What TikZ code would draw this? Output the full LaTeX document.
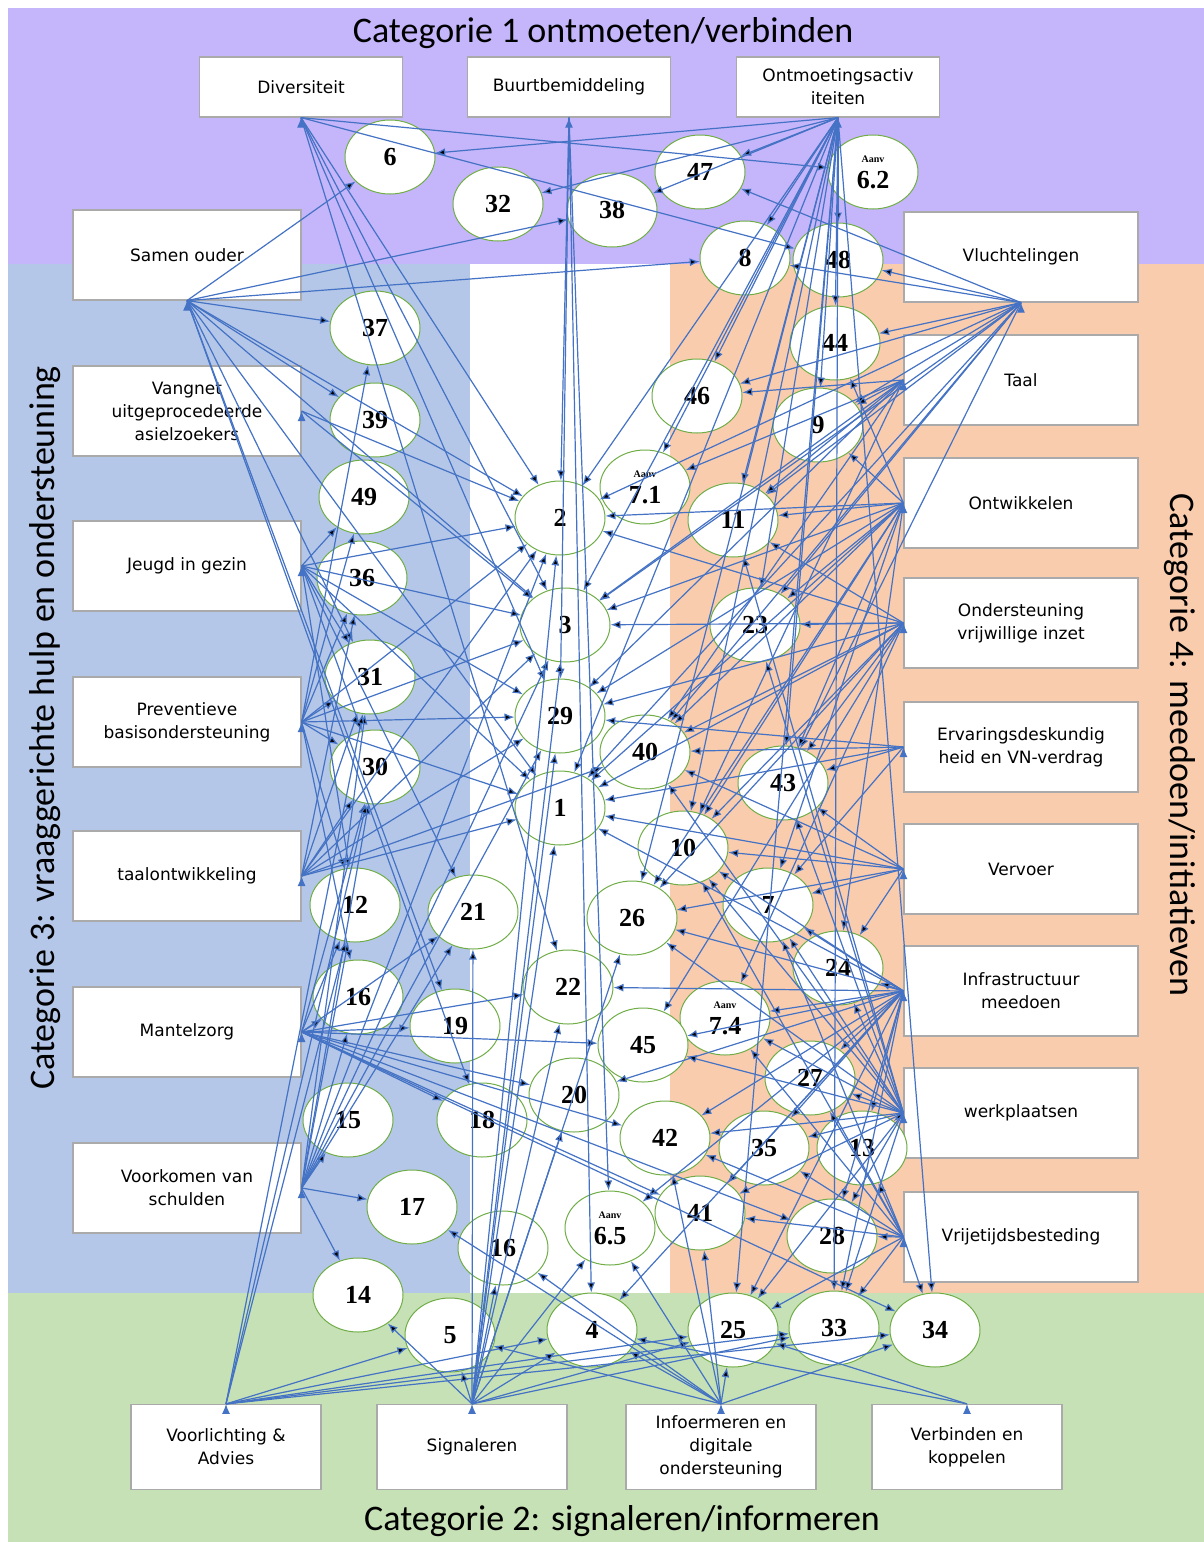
\documentclass[tikz,border=0pt]{standalone}
\usepackage{fontspec}
\setmainfont{DejaVu Sans}
\newfontfamily\titlefont{Carlito}
\newfontfamily\numfont{Liberation Serif}
\usepackage{tikz}
\usetikzlibrary{arrows}
\usetikzlibrary{arrows.meta}
\usetikzlibrary{shapes}
\definecolor{catpurple}{RGB}{197,181,250}
\definecolor{catblue}{RGB}{181,199,232}
\definecolor{catorange}{RGB}{249,204,174}
\definecolor{catgreen}{RGB}{199,225,182}
\definecolor{linkblue}{RGB}{68,114,196}
\definecolor{ringgreen}{RGB}{112,173,71}
\definecolor{boxgray}{RGB}{170,170,170}
\newcommand{\aanvtxt}{{\fontsize{5}{5}\selectfont Aanv}}

\begin{document}
\begin{tikzpicture}[x=0.5pt,y=-0.5pt,>={Latex[length=5pt,width=4pt]},
    title/.style={font=\titlefont\fontsize{18}{18}\selectfont,inner sep=0pt},
    cat/.style={draw=boxgray,fill=white,line width=0.6pt,align=center,inner sep=1pt,
      font=\fontsize{8.5}{11.5}\selectfont},
    sidebox/.style={cat,minimum width=114pt,minimum height=45pt},
    topbox/.style={cat,minimum width=101.5pt,minimum height=30pt},
    botbox/.style={cat,minimum width=95pt,minimum height=42.5pt},
    ring/.style={ellipse,draw=ringgreen,fill=white,line width=0.5pt,minimum width=45pt,
      minimum height=37pt,inner sep=0pt,align=center,
      font=\numfont\bfseries\fontsize{13}{13}\selectfont},
    link/.style={->,draw=linkblue,line width=0.6pt}]
      \useasboundingbox (0,0) rectangle (1204,1542);

      % category areas
      \fill[catpurple] (8,8) rectangle (1204,264);
      \fill[catblue]   (8,264) rectangle (470,1293);
      \fill[white]     (470,264) rectangle (670,1293);
      \fill[catorange] (670,264) rectangle (1204,1293);
      \fill[catgreen]  (8,1293) rectangle (1204,1542);

      \node[title] (cat1) at (603,33) {Categorie 1 ontmoeten/verbinden};
      \node[title] (cat2) at (622,1521) {Categorie 2: signaleren/informeren};
      \node[title,rotate=90] (cat3) at (45,728)
        {Categorie 3: vraaggerichte hulp en ondersteuning};
      \node[title,rotate=-90] (cat4) at (1180,745)
        {Categorie 4: meedoen/initiatieven};

      % boxes
      \node[topbox] (div)  at (301,87) {Diversiteit};
      \node[topbox] (buur) at (569,87) {Buurtbemiddeling};
      \node[topbox] (ontm) at (838,87) {Ontmoetingsactiv\\iteiten};

      \node[sidebox] (samen)  at (187,255)  {Samen ouder};
      \node[sidebox] (vang)   at (187,411)  {Vangnet\\uitgeprocedeerde\\asielzoekers};
      \node[sidebox] (jeugd)  at (187,566)  {Jeugd in gezin};
      \node[sidebox] (prev)   at (187,722)  {Preventieve\\basisondersteuning};
      \node[sidebox] (taalo)  at (187,876)  {taalontwikkeling};
      \node[sidebox] (mantel) at (187,1032) {Mantelzorg};
      \node[sidebox] (schuld) at (187,1188) {Voorkomen van\\schulden};

      \node[sidebox,minimum width=117pt] (vlucht)  at (1021,257)  {Vluchtelingen};
      \node[sidebox,minimum width=117pt] (taal)    at (1021,380)  {Taal};
      \node[sidebox,minimum width=117pt] (ontw)    at (1021,503)  {Ontwikkelen};
      \node[sidebox,minimum width=117pt] (onder)   at (1021,623)  {Ondersteuning\\vrijwillige inzet};
      \node[sidebox,minimum width=117pt] (erv)     at (1021,747)  {Ervaringsdeskundig\\heid en VN-verdrag};
      \node[sidebox,minimum width=117pt] (vervoer) at (1021,869)  {Vervoer};
      \node[sidebox,minimum width=117pt] (infra)   at (1021,991)  {Infrastructuur\\meedoen};
      \node[sidebox,minimum width=117pt] (werk)    at (1021,1113) {werkplaatsen};
      \node[sidebox,minimum width=117pt] (vrij)    at (1021,1237) {Vrijetijdsbesteding};

      \node[botbox] (voorl) at (226,1447) {Voorlichting \&\\Advies};
      \node[botbox] (sign)  at (472,1447) {Signaleren};
      \node[botbox] (info)  at (721,1447) {Infoermeren en\\digitale\\ondersteuning};
      \node[botbox] (verb)  at (967,1447) {Verbinden en\\koppelen};

      % numbered activities
      \node[ring] (n6)  at (390,157)  {6};
      \node[ring] (n32) at (498,204)  {32};
      \node[ring] (n38) at (612,210)  {38};
      \node[ring] (n47) at (700,172)  {47};
      \node[ring] (n62) at (873,172)  {\aanvtxt\\6.2};
      \node[ring] (n8)  at (745,258)  {8};
      \node[ring] (n48) at (838,260)  {48};
      \node[ring] (n37) at (375,328)  {37};
      \node[ring] (n44) at (835,343)  {44};
      \node[ring] (n46) at (697,396)  {46};
      \node[ring] (n39) at (375,420)  {39};
      \node[ring] (n9)  at (818,425)  {9};
      \node[ring] (n49) at (364,497)  {49};
      \node[ring] (n71) at (645,487)  {\aanvtxt\\7.1};
      \node[ring] (n2)  at (560,518)  {2};
      \node[ring] (n11) at (733,520)  {11};
      \node[ring] (n36) at (362,578)  {36};
      \node[ring] (n3)  at (565,625)  {3};
      \node[ring] (n23) at (755,625)  {23};
      \node[ring] (n31) at (370,677)  {31};
      \node[ring] (n29) at (560,716)  {29};
      \node[ring] (n40) at (645,752)  {40};
      \node[ring] (n30) at (375,767)  {30};
      \node[ring] (n43) at (783,783)  {43};
      \node[ring] (n1)  at (560,808)  {1};
      \node[ring] (n10) at (683,848)  {10};
      \node[ring] (n12) at (355,905)  {12};
      \node[ring] (n21) at (473,912)  {21};
      \node[ring] (n26) at (632,918)  {26};
      \node[ring] (n7)  at (768,905)  {7};
      \node[ring] (n22) at (568,987)  {22};
      \node[ring] (n24) at (838,968)  {24};
      \node[ring] (n16) at (358,997)  {16};
      \node[ring] (n19) at (455,1026) {19};
      \node[ring] (n74) at (725,1018) {\aanvtxt\\7.4};
      \node[ring] (n45) at (643,1045) {45};
      \node[ring] (n27) at (810,1078) {27};
      \node[ring] (n20) at (574,1095) {20};
      \node[ring] (n15) at (348,1120) {15};
      \node[ring] (n18) at (482,1120) {18};
      \node[ring] (n42) at (665,1138) {42};
      \node[ring] (n35) at (764,1148) {35};
      \node[ring] (n13) at (862,1148) {13};
      \node[ring] (n17) at (412,1207) {17};
      \node[ring] (n65) at (610,1228) {\aanvtxt\\6.5};
      \node[ring] (n41) at (700,1213) {41};
      \node[ring] (n28) at (832,1236) {28};
      \node[ring] (n16b) at (503,1248) {16};
      \node[ring] (n14) at (358,1295) {14};
      \node[ring] (n5)  at (450,1335) {5};
      \node[ring] (n4)  at (592,1330) {4};
      \node[ring] (n25) at (733,1330) {25};
      \node[ring] (n33) at (834,1328) {33};
      \node[ring] (n34) at (935,1330) {34};

      % links from category 1
      \path[link] (div.south) edge (n62) edge (n48) edge (n2) edge (n3) edge (n22) edge (n29);
      \path[link] (buur.south) edge (n2) edge (n29) edge (n4) edge (n65);
      \path[link] (ontm.south) edge (n6) edge (n32) edge (n47) edge (n38) edge (n8) edge (n48)
        edge (n44) edge (n46) edge (n9) edge (n71) edge (n2) edge (n11) edge (n3) edge (n23)
        edge (n43) edge (n10) edge (n25) edge (n33) edge (n34) edge (n1) edge (n26);

      % links from category 3
      \path[link] (samen.south) edge (n6) edge (n38) edge (n8) edge (n37) edge (n39) edge (n2)
        edge (n3) edge (n1) edge (n19) edge (n18) edge (n31);
      \path[link] (vang.east) edge (n2) edge (n3);
      \path[link] (jeugd.east) edge (n49) edge (n2) edge (n31) edge (n30) edge (n3) edge (n21)
        edge (n1) edge (n12) edge (n29);
      \path[link] (prev.east) edge (n29) edge (n2) edge (n3) edge (n31) edge (n36) edge (n37)
        edge (n49) edge (n30) edge (n12) edge (n16) edge (n1);
      \path[link] (taalo.east) edge (n30) edge (n3) edge (n2) edge (n29) edge (n36) edge (n31)
        edge (n1) edge (n40);
      \path[link] (mantel.east) edge (n19) edge (n22) edge (n16) edge (n18) edge (n20) edge (n41)
        edge (n34) edge (n28) edge (n42) edge (n12) edge (n21) edge (n30) edge (n45);
      \path[link] (schuld.east) edge (n15) edge (n17) edge (n14) edge (n12) edge (n30) edge (n16)
        edge (n21) edge (n31) edge (n2) edge (n3) edge (n29);

      % links from category 4
      \path[link] (vlucht.south) edge (n47) edge (n48) edge (n44) edge (n46) edge (n9) edge (n2)
        edge (n11) edge (n40) edge (n1) edge (n23) edge (n43) edge (n8) edge (n3);
      \path[link] (taal.west) edge (n46) edge (n71) edge (n9) edge (n3) edge (n29) edge (n40)
        edge (n10) edge (n11);
      \path[link] (ontw.west) edge (n2) edge (n11) edge (n9) edge (n23) edge (n3) edge (n29)
        edge (n40) edge (n1) edge (n43) edge (n7) edge (n10) edge (n26) edge (n24) edge (n44);
      \path[link] (onder.west) edge (n23) edge (n3) edge (n29) edge (n40) edge (n1) edge (n10)
        edge (n26) edge (n45) edge (n74) edge (n2) edge (n11) edge (n43);
      \path[link] (erv.west) edge (n40) edge (n29) edge (n1) edge (n43) edge (n7);
      \path[link] (vervoer.west) edge (n1) edge (n10) edge (n26) edge (n7) edge (n24) edge (n40)
        edge (n43);
      \path[link] (infra.west) edge (n24) edge (n27) edge (n74) edge (n45) edge (n22) edge (n42)
        edge (n35) edge (n13) edge (n28) edge (n25) edge (n33) edge (n41) edge (n65) edge (n4)
        edge (n7) edge (n26) edge (n10) edge (n1) edge (n20);
      \path[link] (werk.west) edge (n43) edge (n10) edge (n7) edge (n26) edge (n24) edge (n27)
        edge (n35) edge (n13) edge (n28) edge (n41) edge (n42) edge (n25) edge (n33) edge (n23)
        edge (n11) edge (n40) edge (n45) edge (n74);
      \path[link] (vrij.west) edge (n28) edge (n13) edge (n35) edge (n41) edge (n34) edge (n33)
        edge (n25) edge (n27) edge (n74) edge (n42) edge (n10) edge (n7);

      % links from category 2
      \path[link] (voorl.north) edge (n12) edge (n30) edge (n4) edge (n33) edge (n34) edge (n25)
        edge (n5) edge (n31);
      \path[link] (sign.north) edge (n14) edge (n5) edge (n4) edge (n1) edge (n2) edge (n3)
        edge (n29) edge (n22) edge (n20) edge (n25) edge (n33) edge (n21) edge (n16b) edge (n65)
        edge (n26);
      \path[link] (info.north) edge (n4) edge (n5) edge (n17) edge (n65) edge (n16b) edge (n25)
        edge (n42) edge (n34) edge (n41);
      \path[link] (verb.north) edge (n25) edge (n4);
    \end{tikzpicture}
\end{document}
